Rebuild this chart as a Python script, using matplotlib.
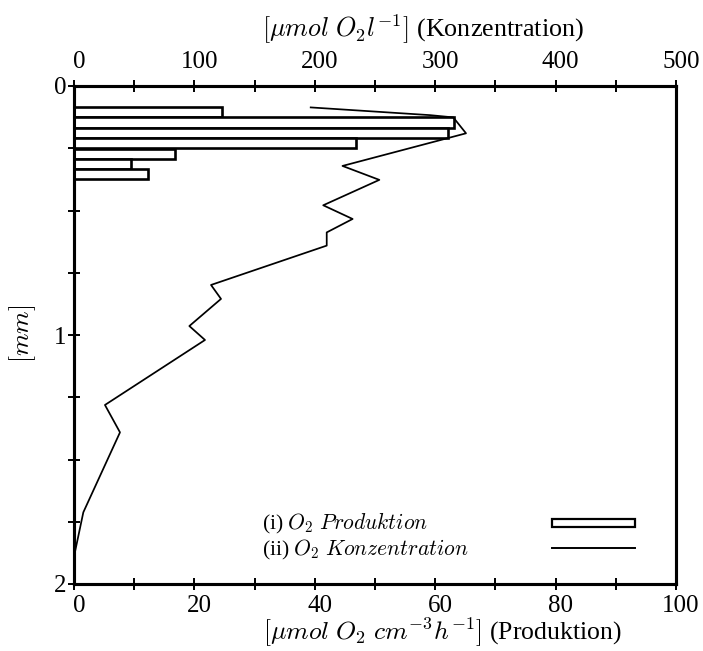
import numpy as np
import matplotlib
matplotlib.use("Agg")
import matplotlib.pyplot as plt
import matplotlib.transforms as mtransforms
from matplotlib.patches import Rectangle
from matplotlib.lines import Line2D

plt.rcParams["font.family"] = ["Liberation Serif", "DejaVu Serif"]
plt.rcParams["mathtext.fontset"] = "cm"

# O2 production per depth layer (bars, bottom axis)
bar_depth = [0.1056, 0.1466, 0.1880, 0.2303, 0.2725, 0.3126, 0.3535]
bar_height = 0.0414
production = [24.6, 63.2, 62.1, 46.8, 16.7, 9.5, 12.3]

# O2 concentration profile (line, top axis)
conc_depth = [0.086, 0.117, 0.126, 0.190, 0.321, 0.377, 0.479, 0.534, 0.588,
              0.641, 0.799, 0.855, 0.964, 1.020, 1.281, 1.391, 1.712, 1.890]
concentration = [196.6, 295.7, 315.0, 325.6, 223.0, 253.6, 207.0, 231.4, 209.9,
                 209.9, 113.8, 122.1, 95.8, 108.8, 25.7, 38.2, 7.75, 0.0]

prod_ticks = [0, 20, 40, 60, 80, 100]
conc_ticks = [0, 100, 200, 300, 400, 500]
depth_ticks = [0, 1, 2]

W, H = 703, 651
fig = plt.figure(figsize=(W / 100, H / 100), dpi=100)


def fx(px):
    return px / W


def fy(py):
    return 1 - py / H


ax = fig.add_axes([fx(74), fy(584), (676 - 74) / W, (584 - 86) / H])
ax2 = ax.twiny()

ax.barh(bar_depth, production, height=bar_height, left=0, facecolor="white",
        edgecolor="black", linewidth=1.9, zorder=3)
ax2.plot(concentration, conc_depth, color="black", linewidth=1.25, zorder=3)

ax.set_xlim(0, 100)
ax2.set_xlim(0, 500)
ax.set_ylim(2, 0)

ax.set_xticks(prod_ticks)
ax.set_xticks(np.arange(0, 101, 10), minor=True)
ax2.set_xticks(conc_ticks)
ax2.set_xticks(np.arange(0, 501, 50), minor=True)
ax.set_yticks(depth_ticks)
ax.set_yticks(np.arange(0, 2.01, 0.25), minor=True)

tick_kw = dict(direction="inout", length=8.5, width=1.4, colors="black",
               labelsize=18)
ax.tick_params(axis="x", which="both", bottom=True, top=False, pad=4, **tick_kw)
ax.tick_params(axis="y", which="both", left=True, right=False, pad=1, **tick_kw)
ax2.tick_params(axis="x", which="both", top=True, bottom=False, pad=5, **tick_kw)
ax2.tick_params(axis="y", which="both", left=False, right=False)

# horizontal tick labels sit a few pixels right of their ticks
shift = mtransforms.ScaledTranslation(5 / 100, 0, fig.dpi_scale_trans)
for tk in ax.xaxis.get_major_ticks(len(prod_ticks)):
    tk.label1.set_transform(tk.label1.get_transform() + shift)
for tk in ax2.xaxis.get_major_ticks(len(conc_ticks)):
    tk.label2.set_transform(tk.label2.get_transform() + shift)

for a in (ax, ax2):
    for s in a.spines.values():
        s.set_linewidth(2.2)
        s.set_color("black")

# axis titles
fig.text(fx(262), fy(37), r"$[\mu mol\ O_2 l^{-1}]$ (Konzentration)",
         fontsize=18.8, ha="left", va="baseline")
fig.text(fx(263), fy(640), r"$[\mu mol\ O_2\ cm^{-3}h^{-1}]$ (Produktion)",
         fontsize=18.5, ha="left", va="baseline")
fig.text(fx(23), fy(334), r"$[mm]$", fontsize=18.5, rotation=90,
         ha="center", va="center")

# key
fig.text(fx(262), fy(529), r"(i) $O_2\ Produktion$", fontsize=15.5,
         ha="left", va="baseline")
fig.text(fx(262), fy(555), r"(ii) $O_2\ Konzentration$", fontsize=15.5,
         ha="left", va="baseline")
fig.add_artist(Rectangle((fx(552), fy(527)), (635 - 552) / W, 8 / H,
                         transform=fig.transFigure, facecolor="white",
                         edgecolor="black", linewidth=1.6))
fig.add_artist(Line2D([fx(552), fx(635)], [fy(547.5), fy(547.5)],
                      transform=fig.transFigure, color="black", linewidth=1.4))

fig.savefig("out.png", dpi=100)
